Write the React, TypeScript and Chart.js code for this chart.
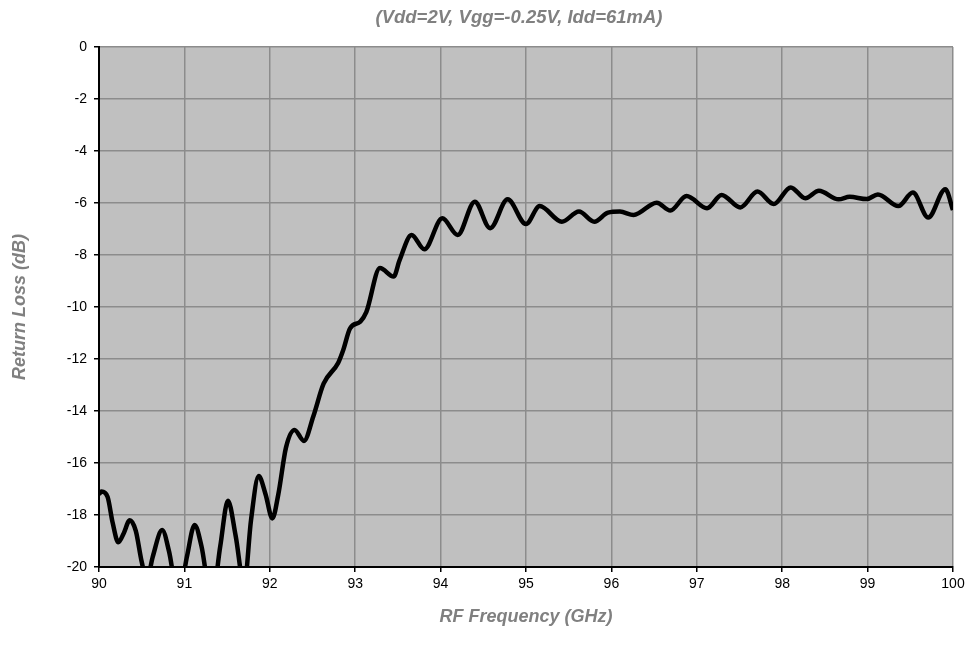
import { useEffect, useRef } from "react";
import { Chart, registerables } from "chart.js";

Chart.register(...registerables);

const chartTitle = "(Vdd=2V, Vgg=-0.25V, Idd=61mA)";
const xAxisTitle = "RF Frequency (GHz)";
const yAxisTitle = "Return Loss (dB)";

const frequencies = [
  90.0, 90.03, 90.1, 90.16, 90.226, 90.29, 90.36, 90.43, 90.5, 90.56, 90.63, 90.74,
  90.82, 90.93, 91.03, 91.12, 91.2, 91.32, 91.42, 91.51, 91.6, 91.7, 91.78, 91.87,
  91.95, 92.03, 92.1, 92.19, 92.29, 92.4, 92.51, 92.63, 92.8, 92.86, 92.94, 93.06,
  93.13, 93.29, 93.45, 93.52, 93.66, 93.81, 94.02, 94.2, 94.4, 94.58, 94.785, 95.0,
  95.16, 95.42, 95.62, 95.8, 95.96, 96.1, 96.26, 96.53, 96.69, 96.88, 97.12, 97.29,
  97.51, 97.71, 97.9, 98.1, 98.27, 98.43, 98.66, 98.79, 98.99, 99.12, 99.36, 99.53,
  99.71, 99.91, 100.0,
];

const returnLoss = [
  -17.2, -17.1, -17.3, -18.3, -19.05, -18.7, -18.2, -18.6, -19.8, -20.5, -19.6, -18.58,
  -19.4, -21.2, -19.6, -18.38, -19.2, -21.3, -19.2, -17.45, -18.8, -20.7, -18.2, -16.5,
  -17.2, -18.13, -17.2, -15.4, -14.73, -15.15, -14.2, -12.95, -12.15, -11.65, -10.82, -10.56,
  -10.2, -8.5, -8.83, -8.2, -7.23, -7.78, -6.59, -7.23, -5.95, -6.97, -5.86, -6.81,
  -6.12, -6.72, -6.33, -6.72, -6.37, -6.33, -6.46, -5.99, -6.29, -5.73, -6.2, -5.69,
  -6.17, -5.56, -6.04, -5.4, -5.82, -5.53, -5.86, -5.76, -5.85, -5.67, -6.12, -5.6,
  -6.56, -5.47, -6.27,
];

const xRange = [90, 100];
const yRange = [-20, 0];
const xStep = 1;
const yStep = 2;

const FONT = "'Liberation Sans', Arial, sans-serif";

const plotBackground = {
  id: "plotBackground",
  beforeDraw(chart: any) {
    const { ctx, chartArea } = chart;
    ctx.save();
    ctx.fillStyle = "#c0c0c0";
    ctx.fillRect(chartArea.left, chartArea.top, chartArea.right - chartArea.left, chartArea.bottom - chartArea.top);
    ctx.restore();
  },
};

const topTitle = {
  id: "topTitle",
  afterDraw(chart: any) {
    const { ctx, chartArea } = chart;
    ctx.save();
    ctx.font = `italic bold 18.5px ${FONT}`;
    ctx.fillStyle = "#808080";
    ctx.textAlign = "center";
    ctx.textBaseline = "middle";
    ctx.fillText(chartTitle, (chartArea.left + chartArea.right) / 2 - 7, 18);
    ctx.restore();
  },
};

export default function App() {
  const ref = useRef<HTMLCanvasElement>(null);

  useEffect(() => {
    document.body.style.margin = "0";
    const points = frequencies.map((f, i) => ({ x: f, y: returnLoss[i] }));
    const chart = new Chart(ref.current as HTMLCanvasElement, {
      type: "line",
      data: {
        datasets: [
          {
            data: points,
            borderColor: "#000000",
            borderWidth: 4.5,
            pointRadius: 0,
            cubicInterpolationMode: "monotone",
            fill: false,
            clip: 0,
          } as any,
        ],
      },
      plugins: [plotBackground, topTitle],
      options: {
        animation: false,
        responsive: false,
        layout: { padding: { top: 47, right: 13, bottom: 0, left: 0 } },
        plugins: {
          legend: { display: false },
          tooltip: { enabled: false },
          title: { display: false },
        },
        scales: {
          x: {
            type: "linear",
            min: xRange[0],
            max: xRange[1],
            afterFit: (s: any) => {
              s.height = 88;
              s.paddingLeft = 0;
              s.paddingRight = 0;
            },
            ticks: {
              stepSize: xStep,
              color: "#000000",
              font: { family: FONT, size: 14 },
              padding: 4,
              maxRotation: 0,
            },
            grid: {
              color: "#8c8c8c",
              lineWidth: 1.5,
              tickLength: 5,
              tickColor: "#000000",
              tickWidth: 1.5,
            },
            border: { color: "#000000", width: 2 },
            title: {
              display: true,
              text: xAxisTitle,
              color: "#808080",
              font: { family: FONT, size: 18, weight: "bold", style: "italic" },
              padding: { top: 0, bottom: 27 },
            },
          },
          y: {
            type: "linear",
            min: yRange[0],
            max: yRange[1],
            afterFit: (s: any) => {
              s.width = 99;
              s.paddingTop = 0;
              s.paddingBottom = 0;
            },
            ticks: {
              stepSize: yStep,
              color: "#000000",
              font: { family: FONT, size: 14 },
              padding: 7,
            },
            grid: {
              color: "#8c8c8c",
              lineWidth: 1.5,
              tickLength: 5,
              tickColor: "#000000",
              tickWidth: 1.5,
            },
            border: { color: "#000000", width: 2 },
            title: {
              display: true,
              text: yAxisTitle,
              color: "#808080",
              font: { family: FONT, size: 18, weight: "bold", style: "italic" },
              padding: { top: 9, bottom: 0 },
            },
          },
        },
      } as any,
    });
    return () => chart.destroy();
  }, []);

  return (
    <div style={{ width: 966, height: 655 }}>
      <canvas ref={ref} width={966} height={655} />
    </div>
  );
}
